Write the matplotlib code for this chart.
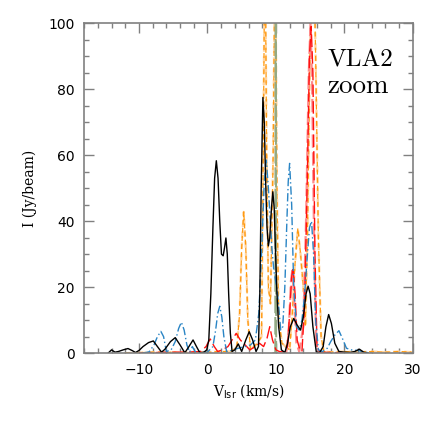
import matplotlib
matplotlib.use("Agg")
import matplotlib.pyplot as plt
from matplotlib.ticker import MultipleLocator

# black solid spectrum
v_black = [-14.5, -14.0, -13.5, -13.0, -12.3, -11.6, -11.0, -10.5, -10.0, -9.4,
           -8.6, -7.9, -7.3, -6.7, -6.2, -5.4, -4.7, -4.0, -3.3, -2.7,
           -2.1, -1.6, -1.1, -0.5, -0.1, 0.2, 0.5, 0.8, 1.05, 1.3,
           1.55, 1.8, 2.05, 2.3, 2.5, 2.7, 2.9, 3.1, 3.35, 3.6,
           4.0, 4.5, 5.0, 5.6, 6.1, 6.6, 7.1, 7.45, 7.65, 7.85,
           8.1, 8.3, 8.5, 8.7, 8.9, 9.1, 9.35, 9.55, 9.75, 9.95,
           10.15, 10.4, 10.8, 11.3, 11.7, 12.1, 12.6, 13.1, 13.6, 14.0,
           14.4, 14.7, 15.0, 15.4, 15.9, 16.4, 16.9, 17.3, 17.7, 18.1,
           18.6, 19.2, 20.0, 20.8, 21.5, 22.2, 22.8, 23.5]
i_black = [0.0, 1.0, 0.3, 0.5, 1.0, 1.4, 0.8, 0.2, 0.8, 2.0,
           3.2, 3.7, 2.0, 0.3, 1.2, 3.5, 4.7, 2.5, 0.1, 2.0,
           4.0, 2.0, 0.1, 0.3, 1.0, 4.0, 18.0, 38.0, 53.0, 58.3,
           53.0, 40.0, 30.0, 29.5, 32.0, 34.9, 30.0, 18.0, 6.0, 0.5,
           1.0, 2.8, 0.5, 4.0, 6.5, 4.0, 0.5, 2.0, 18.0, 50.0,
           77.5, 70.0, 52.0, 38.0, 32.5, 35.0, 44.0, 48.9, 44.0, 30.0,
           18.0, 8.0, 1.0, 0.2, 3.0, 8.0, 10.5, 8.5, 7.0, 11.0,
           18.0, 20.3, 18.0, 8.0, 0.3, 0.2, 2.0, 8.0, 11.7, 9.0,
           3.0, 0.5, 0.3, 0.2, 0.5, 1.2, 0.3, 0.0]

# blue dash-dot spectrum
v_blue = [-9.5, -8.5, -7.8, -7.3, -6.8, -6.4, -6.0, -5.3, -4.7, -4.2,
          -3.8, -3.4, -3.0, -2.6, -2.2, -1.8, -1.0, 0.0, 0.8, 1.2,
          1.5, 1.8, 2.1, 2.4, 2.8, 3.5, 4.5, 5.5, 6.3, 7.0,
          7.5, 7.9, 8.3, 8.6, 8.9, 9.1, 9.4, 9.7, 10.2, 10.7,
          11.0, 11.3, 11.6, 11.8, 12.0, 12.3, 12.6, 13.0, 13.4, 13.8,
          14.2, 14.6, 14.9, 15.2, 15.5, 15.8, 16.2, 16.8, 17.5, 18.0,
          18.6, 19.2, 19.7, 20.3, 21.0, 22.0, 23.0, 24.0]
i_blue = [0.0, 0.4, 2.5, 5.0, 6.6, 5.0, 0.5, 1.0, 3.5, 7.5,
          9.4, 7.0, 2.5, 0.3, 2.0, 0.5, 0.2, 0.3, 2.0, 7.0,
          12.0, 14.2, 11.0, 5.0, 0.5, 0.8, 1.5, 2.0, 2.5, 4.0,
          12.0, 30.0, 52.0, 58.5, 50.0, 43.0, 32.0, 25.0, 19.0, 7.0,
          8.0, 20.0, 40.0, 52.0, 57.5, 45.0, 20.0, 8.0, 7.0, 10.0,
          18.0, 30.0, 38.0, 40.0, 30.0, 10.0, 1.0, 0.5, 1.5, 3.5,
          5.5, 6.8, 4.5, 1.5, 1.0, 0.8, 0.3, 0.0]

# orange dashed spectrum
v_orange = [-12.0, -8.0, -3.0, 0.0, 2.0, 3.5, 4.3, 4.7, 5.0, 5.3,
            5.6, 5.9, 6.3, 6.8, 7.3, 7.9, 8.15, 8.4, 8.65, 8.9,
            9.2, 9.6, 9.9, 10.15, 10.4, 10.9, 11.4, 12.0, 12.4, 12.75,
            13.2, 13.6, 14.0, 14.3, 14.6, 14.9, 15.2, 15.45, 15.8, 16.2,
            16.6, 17.0, 18.0, 20.0, 22.0, 24.0, 26.0, 28.0, 30.0]
i_orange = [0.0, 0.3, 0.2, 0.3, 0.5, 0.5, 2.0, 12.0, 32.0, 42.8,
            32.0, 10.0, 1.0, 2.0, 3.0, 5.0, 60.0, 130.0, 60.0, 20.0,
            15.0, 60.0, 130.0, 50.0, 10.0, 3.0, 2.0, 1.0, 12.0, 26.0,
            37.8, 30.0, 20.0, 8.0, 35.0, 80.0, 115.0, 130.0, 90.0, 35.0,
            5.0, 0.5, 0.3, 0.5, 0.3, 0.5, 0.3, 0.5, 0.3]

# red long-dashed spectrum
v_red = [-10.0, -6.0, -3.0, -1.0, -0.2, 0.4, 1.0, 1.5, 2.2, 3.0,
         3.6, 4.2, 4.8, 5.5, 6.2, 7.0, 7.6, 8.2, 8.7, 9.1,
         9.5, 10.0, 10.5, 11.3, 11.7, 12.0, 12.3, 12.5, 12.8, 13.1,
         13.5, 13.8, 14.2, 14.6, 14.9, 15.15, 15.4, 15.7, 16.0, 16.5,
         18.0, 20.0]
i_red = [0.0, 0.3, 0.3, 0.5, 2.0, 4.3, 2.0, 0.5, 1.0, 2.0,
         4.0, 6.0, 4.0, 2.5, 1.0, 2.0, 3.0, 2.0, 4.5, 8.0,
         4.0, 1.0, 0.5, 0.3, 2.0, 12.0, 23.0, 26.0, 18.0, 4.0,
         1.0, 0.5, 15.0, 55.0, 90.0, 99.0, 85.0, 30.0, 2.0, 0.3,
         0.2, 0.1]

# light red dashed spectrum
v_pink = [11.5, 11.9, 12.2, 12.4, 12.7, 13.0, 13.4, 14.0, 14.4, 14.8,
          15.05, 15.3, 15.6, 15.9, 16.3]
i_pink = [0.0, 8.0, 22.0, 25.0, 15.0, 3.0, 0.5, 8.0, 40.0, 85.0,
          100.0, 80.0, 30.0, 3.0, 0.0]

# green long-dashed spectrum
v_green = [9.5, 9.9, 9.97, 10.04, 10.3]
i_green = [0.0, 0.0, 130.0, 0.0, 0.0]

fig = plt.figure(figsize=(4.36, 4.36), dpi=100)
ax = fig.add_axes([0.193, 0.190, 0.754, 0.757])

ax.plot(v_orange, i_orange, color='#ffd39e', lw=1.6, ls=(0, (3, 2)))
ax.plot(v_orange, i_orange, color='#ff9a10', lw=0.9, ls=(0, (4, 2.5)))
ax.plot(v_green, i_green, color='#94aa84', lw=1.4, ls=(0, (9, 2)))
ax.plot(v_pink, i_pink, color='#ff8a8a', lw=1.6, ls=(0, (6, 2)))
ax.plot(v_red, i_red, color='#ff1010', lw=1.0, ls=(0, (9, 3)))
ax.plot(v_blue, i_blue, color='#2a85c5', lw=1.0, ls=(0, (6, 2, 1, 2)))
ax.plot(v_black, i_black, color='black', lw=1.0)

ax.set_xlim(-18, 30)
ax.set_ylim(0, 100)
ax.xaxis.set_major_locator(MultipleLocator(10))
ax.xaxis.set_minor_locator(MultipleLocator(2))
ax.yaxis.set_major_locator(MultipleLocator(20))
ax.yaxis.set_minor_locator(MultipleLocator(5))
ax.tick_params(which='both', direction='in', top=True, right=True,
               color='#808080', labelsize=10, pad=7)
ax.tick_params(which='major', length=7, width=1.0)
ax.tick_params(which='minor', length=3.5, width=1.0)
for s in ax.spines.values():
    s.set_color('#808080')
    s.set_linewidth(1.2)

ax.set_xlabel(r'V$_{\rm lsr}$ (km/s)', fontsize=10, family='DejaVu Serif')
ax.set_ylabel('I (Jy/beam)', fontsize=10, family='DejaVu Serif', labelpad=8)
ax.text(0.74, 0.92, 'VLA2', transform=ax.transAxes, fontsize=18,
        family=['cmr10', 'DejaVu Serif'], va='top', ha='left')
ax.text(0.74, 0.845, 'zoom', transform=ax.transAxes, fontsize=19.5,
        family=['cmr10', 'DejaVu Serif'], va='top', ha='left')

fig.savefig('out.png', dpi=100)
